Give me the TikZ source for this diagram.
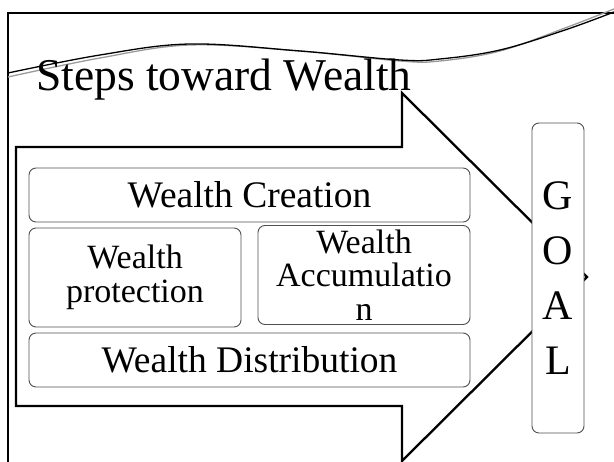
\documentclass[tikz,border=0pt]{standalone}
\usepackage{fontspec}
\setmainfont{Liberation Serif}
\newcommand{\fsz}[1]{\fontsize{#1}{#1}\selectfont}
\definecolor{boxline}{HTML}{505050}
\definecolor{waveshade}{HTML}{9A9A9A}
\begin{document}
\begin{tikzpicture}[x=1pt,y=-1pt,
  frameline/.style={line width=2pt, black},
  bigarrow/.style={line width=2.3pt, black, line join=miter, fill=white},
  stepbox/.style={draw=boxline, line width=0.9pt, rounded corners=7pt, fill=white,
                  inner sep=0pt, align=center},
  wideword/.style={font=\fsz{37.5}},
  smallword/.style={font=\fontsize{34}{33.5}\selectfont},
  goalword/.style={font=\fontsize{42}{55}\selectfont}]
\useasboundingbox (0,0) rectangle (614,462);

% slide frame
\draw[frameline] (8,470) -- (8,13) -- (620,13);

% curved double stroke under the frame top
\draw[waveshade, line width=1.3pt] plot[smooth, tension=0.6] coordinates
  {(8,77) (100,58) (190,45) (300,51) (400,61) (440,61) (500,51) (565,28) (614,9)};
\draw[black, line width=1.3pt] plot[smooth, tension=0.6] coordinates
  {(8,73) (100,55) (190,44) (300,51) (400,60) (440,59) (500,50) (565,30) (614,12)};

% title
\node[anchor=base west, inner sep=0pt, font=\fsz{45.5}] (title) at (36,91) {Steps toward Wealth};

% block arrow
\draw[bigarrow] (16,147) -- (402,147) -- (402,93) -- (587,277) -- (402,461)
  -- (402,406) -- (16,406) -- cycle;

% step boxes
\node[stepbox, wideword, minimum width=441pt, minimum height=54pt]
  (create) at (249.5,195) {Wealth Creation};
\node[stepbox, smallword, minimum width=212pt, minimum height=99pt]
  (protect) at (135,277.5) {Wealth\\protection};
\node[stepbox, smallword, minimum width=212pt, minimum height=99pt]
  (accum) at (364,275) {Wealth\\Accumulatio\\n};
\node[stepbox, wideword, minimum width=441pt, minimum height=54pt]
  (distrib) at (249.5,360) {Wealth Distribution};

% goal column
\node[stepbox, goalword, minimum width=52pt, minimum height=310pt]
  (goal) at (558,278) {G\\O\\A\\L};
\end{tikzpicture}
\end{document}
